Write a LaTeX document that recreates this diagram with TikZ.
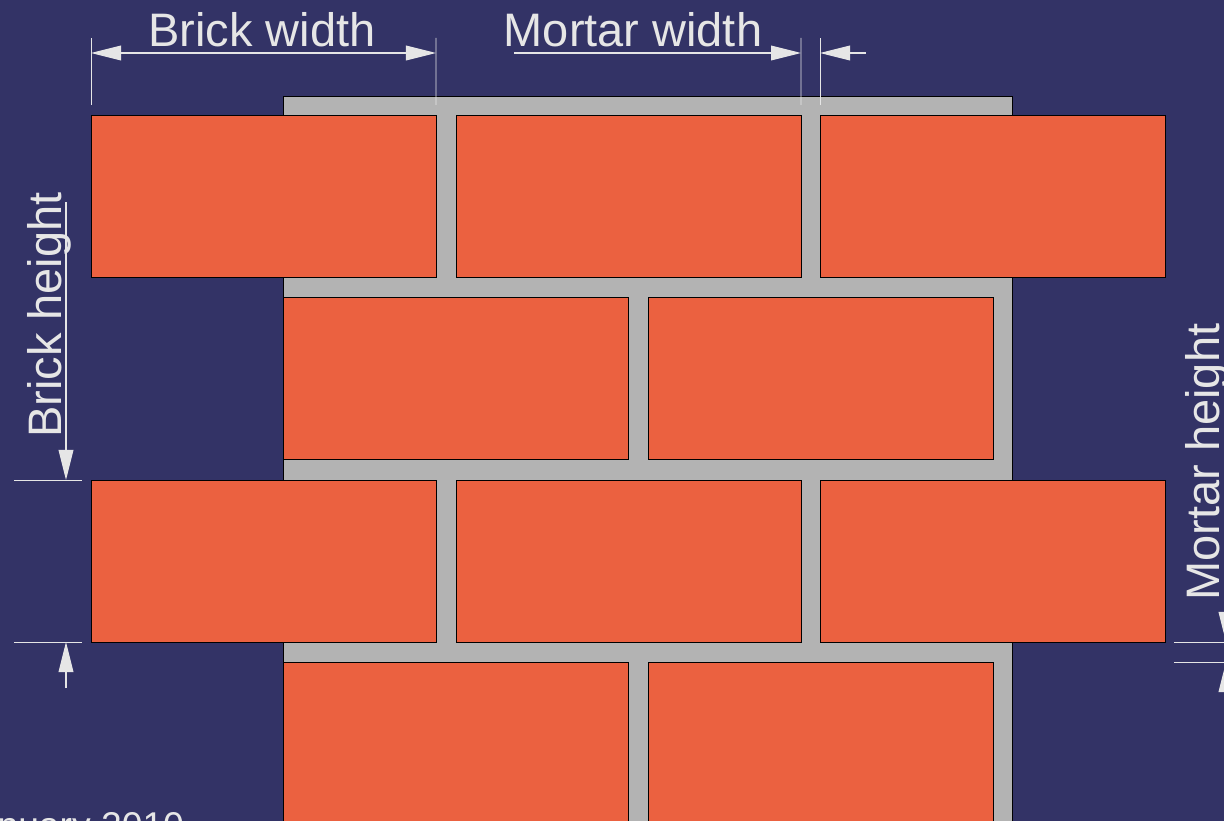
\documentclass[tikz,border=0pt]{standalone}
\usepackage{fontspec}
\setmainfont{Liberation Sans}
\usetikzlibrary{arrows.meta}

\definecolor{wallbg}{RGB}{51,51,102}
\definecolor{brickred}{RGB}{235,97,64}
\definecolor{mortargray}{RGB}{179,179,179}
\definecolor{dimwhite}{RGB}{230,230,230}

\begin{document}
\begin{tikzpicture}[x=0.025cm,y=-0.025cm,>={Triangle[length=0.75cm,width=0.37cm]},
                    brick/.style={draw=black,fill=brickred,line width=0.7pt,inner sep=0pt,
                      outer sep=0pt,minimum width=345*0.025cm,minimum height=162*0.025cm,
                      anchor=north west},
                    dimline/.style={draw=dimwhite,line width=0.8pt},
                    extline/.style={draw=dimwhite,line width=0.6pt},
                    dimtext/.style={text=dimwhite,font=\fontsize{33.4}{40}\selectfont}]

  \useasboundingbox (0,0) rectangle (1224,821);
  \clip (0,0) rectangle (1224,821);
  \fill[wallbg] (0,0) rectangle (1224,821);

  % mortar
  \filldraw[fill=mortargray,draw=black,line width=0.7pt] (283,96) rectangle (1012,850);

  % bricks
  \node[brick] (b11) at (91,115)  {};
  \node[brick] (b12) at (456,115) {};
  \node[brick] (b13) at (820,115) {};
  \node[brick] (b21) at (283,297) {};
  \node[brick] (b22) at (648,297) {};
  \node[brick] (b31) at (91,480)  {};
  \node[brick] (b32) at (456,480) {};
  \node[brick] (b33) at (820,480) {};
  \node[brick] (b41) at (283,662) {};
  \node[brick] (b42) at (648,662) {};

  % brick width
  \coordinate (bwtopl) at (91,38);
  \coordinate (bwtopr) at (436,38);
  \coordinate (bwl) at (91,53);
  \coordinate (bwr) at (436,53);
  \draw[extline] ([yshift=0.25cm]b11.north west) -- (bwtopl);
  \draw[extline] ([yshift=0.25cm]b11.north east) -- (bwtopr);
  \draw[dimline,<->] (bwl) -- (bwr);
  \node[dimtext,anchor=base] (bwtext) at (262,47) {Brick width};

  % mortar width
  \coordinate (mwtopl) at (801,38);
  \coordinate (mwtopr) at (820,38);
  \coordinate (mwstart) at (514,53);
  \coordinate (mwl) at (801,53);
  \coordinate (mwr) at (820,53);
  \coordinate (mwend) at (866,53);
  \draw[extline] ([yshift=0.25cm]b12.north east) -- (mwtopl);
  \draw[extline] ([yshift=0.25cm]b13.north west) -- (mwtopr);
  \draw[dimline,->] (mwstart) -- (mwl);
  \draw[dimline,->] (mwend) -- (mwr);
  \node[dimtext,anchor=base] (mwtext) at (633,47) {Mortar width};

  % brick height
  \coordinate (bhleftt) at (14,480);
  \coordinate (bhleftb) at (14,642);
  \coordinate (bhstart) at (66,202);
  \coordinate (bht) at (66,480);
  \coordinate (bhb) at (66,642);
  \coordinate (bhend) at (66,688);
  \draw[extline] ([xshift=-0.225cm]b31.north west) -- (bhleftt);
  \draw[extline] ([xshift=-0.225cm]b31.south west) -- (bhleftb);
  \draw[dimline,->] (bhstart) -- (bht);
  \draw[dimline,->] (bhend) -- (bhb);
  \node[dimtext,rotate=90,anchor=base] (bhtext) at (61,315) {Brick height};

  % mortar height
  \coordinate (mhrightt) at (1240,642);
  \coordinate (mhrightb) at (1240,662);
  \coordinate (mhstart) at (1226,600);
  \coordinate (mht) at (1226,642);
  \coordinate (mhb) at (1226,662);
  \coordinate (mhend) at (1226,704);
  \draw[extline] ([xshift=0.225cm]b33.south east) -- (mhrightt);
  \draw[extline] (1174,662) -- (mhrightb);
  \draw[dimline,->] (mhstart) -- (mht);
  \draw[dimline,->] (mhend) -- (mhb);
  \node[dimtext,rotate=90,anchor=base] (mhtext) at (1219,462) {Mortar height};

  % date
  \node[text=dimwhite,font=\fontsize{26.5}{30}\selectfont,anchor=base east] (date) at (189,838) {January 2010};
\end{tikzpicture}
\end{document}
